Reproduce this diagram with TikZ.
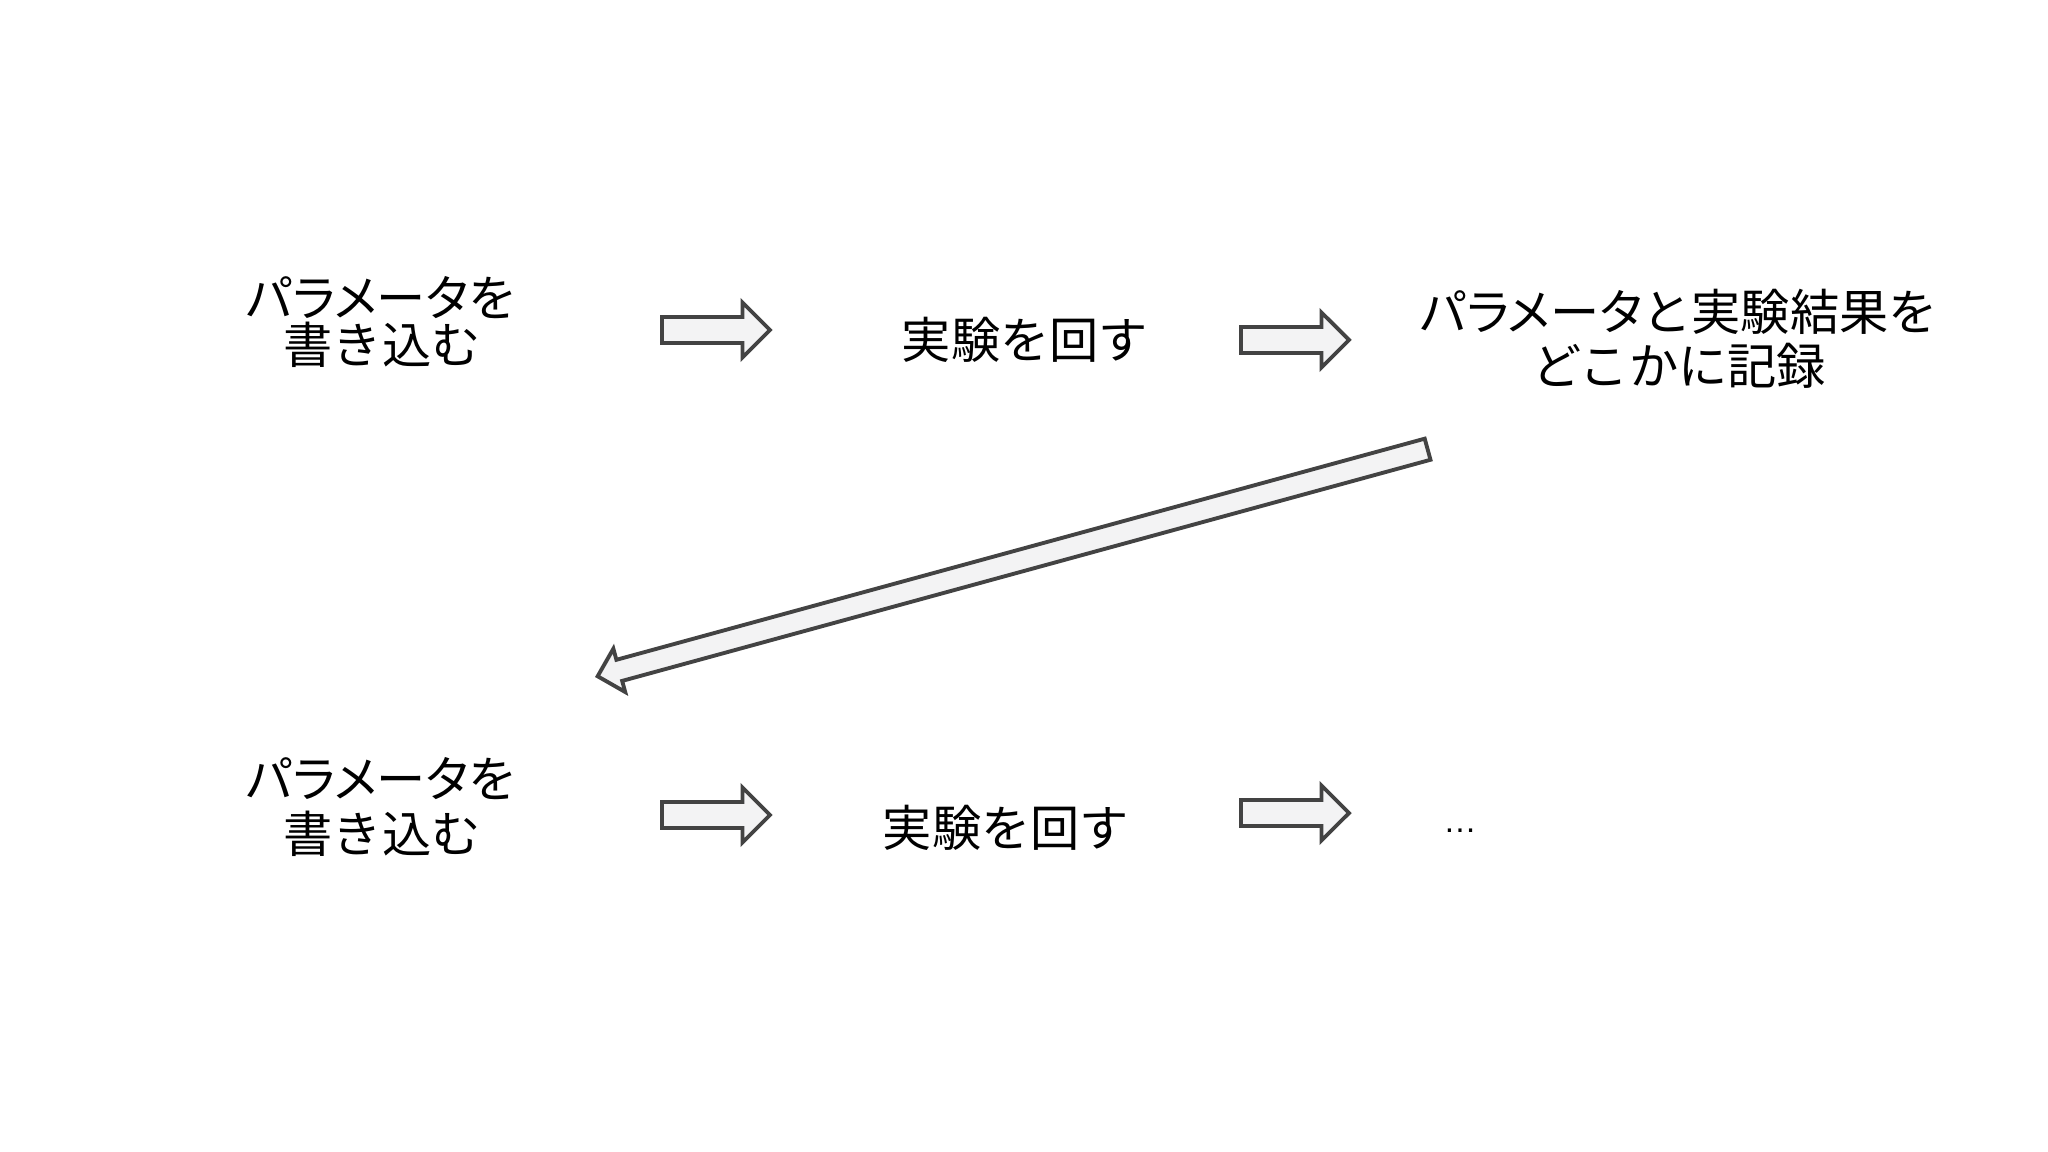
\documentclass[tikz,border=0pt]{standalone}
\usepackage{fontspec}
\setmainfont{Noto Sans CJK JP}
\newfontfamily\kana{Noto Sans CJK JP}[RawFeature=+palt]
\newfontfamily\dotsfont{Liberation Sans}
\usepackage{tikz}
\usetikzlibrary{shapes,arrows}
\definecolor{arrowfill}{HTML}{F3F3F4}
\definecolor{arrowline}{HTML}{434343}
\tikzstyle{blockarrow} = [draw=arrowline, fill=arrowfill, line width=1.1pt, shape=single arrow, single arrow tip angle=90, inner xsep=0pt, inner ysep=0.11cm, minimum height=1.08cm, single arrow head extend=0.145cm]
\tikzstyle{jptext} = [align=center, inner sep=0pt, font=\fontsize{14pt}{15.4pt}\selectfont]
\tikzstyle{jptight} = [align=center, inner sep=0pt, font=\fontsize{14pt}{13.1pt}\selectfont]
\lineskiplimit=-10pt

\begin{document}
\begin{tikzpicture}[x=0.01cm, y=-0.01cm]
	\useasboundingbox (0,0) rectangle (2048,1152);
	% -------------- Row 1 --------------
	\node[jptight] (write1) at (382,322) {{\kana パラメータ}を\\書き込む};
	\node[blockarrow, anchor=tail] (arr1) at (660,330) {};
	\node[jptext] (run1) at (1025,340) {実験を回す};
	\node[blockarrow, anchor=tail] (arr2) at (1239,340) {};
	\node[jptext] (record) at (1679,339) {{\kana パラメータ}と実験結果を\\どこかに記録};
	% -------------- Back to row 2 --------------
	\node[blockarrow, rotate=195.3, inner ysep=0.09cm, minimum height=8.6cm, single arrow head extend=0.115cm, anchor=tip] (back) at (595,677) {};
	% -------------- Row 2 --------------
	\node[jptext] (write2) at (382,807) {{\kana パラメータ}を\\書き込む};
	\node[blockarrow, anchor=tail] (arr3) at (660,815) {};
	\node[jptext] (run2) at (1006,828) {実験を回す};
	\node[blockarrow, anchor=tail] (arr4) at (1239,813) {};
	\node[anchor=base, inner sep=0pt, font=\dotsfont\fontsize{9.5pt}{11pt}\selectfont] (dots) at (1460,832) {…};
\end{tikzpicture}
\end{document}
